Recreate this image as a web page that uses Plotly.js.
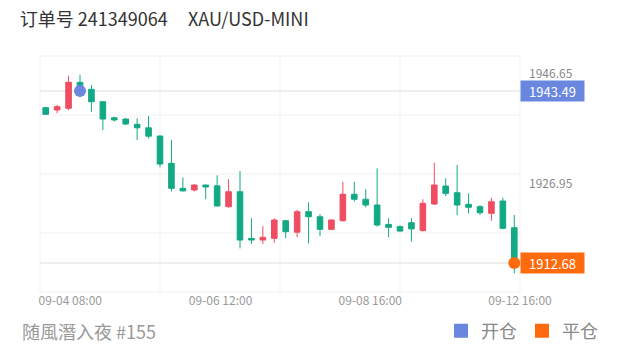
<!DOCTYPE html>
<html>
<head>
<meta charset="utf-8">
<script src="https://cdn.plot.ly/plotly-3.0.1.min.js"></script>
<style>html,body{margin:0;padding:0;background:#fff;}#chart{width:620px;height:352px;}</style>
</head>
<body>
<div id="chart"></div>
<script>
// ---- data ----
const candleIndex = [0,1,2,3,4,5,6,7,8,9,10,11,12,13,14,15,16,17,18,19,20,21,22,23,24,25,26,27,28,29,30,31,32,33,34,35,36,37,38,39,40,41];
const openVals  = [1940.50,1940.09,1940.39,1945.05,1943.79,1941.57,1938.70,1938.47,1937.52,1936.90,1935.43,1930.54,1926.06,1925.76,1926.65,1926.50,1922.77,1925.45,1917.10,1916.80,1917.10,1920.26,1918.20,1921.87,1920.97,1918.72,1920.26,1924.99,1924.10,1923.07,1919.60,1919.20,1919.90,1918.50,1923.25,1926.47,1925.27,1923.19,1922.77,1921.58,1923.79,1919.00];
const highVals  = [1940.60,1940.98,1946.23,1946.40,1944.57,1941.60,1938.90,1938.65,1938.60,1939.00,1935.50,1934.70,1928.00,1926.80,1926.70,1928.40,1927.70,1929.16,1920.70,1919.30,1920.70,1920.40,1922.20,1923.55,1921.45,1920.50,1927.24,1927.24,1925.90,1929.64,1920.70,1919.40,1920.70,1924.10,1930.65,1927.85,1930.23,1925.16,1923.07,1924.38,1924.38,1921.28];
const lowVals   = [1939.20,1939.50,1940.09,1942.40,1939.78,1936.50,1938.00,1937.40,1934.70,1935.00,1929.80,1925.50,1925.50,1925.50,1924.10,1922.80,1922.60,1915.30,1916.10,1916.10,1916.30,1917.10,1917.30,1916.20,1917.50,1918.60,1920.10,1923.70,1922.66,1919.20,1917.30,1918.30,1916.50,1918.30,1923.07,1924.68,1921.28,1921.60,1921.28,1920.26,1918.80,1910.83];
const closeVals = [1939.32,1940.68,1945.05,1943.10,1941.57,1938.47,1938.30,1937.57,1936.90,1935.40,1930.40,1926.06,1925.60,1926.65,1926.30,1922.90,1925.45,1916.80,1916.80,1917.28,1920.38,1918.29,1921.87,1920.97,1918.72,1920.38,1924.99,1924.10,1923.07,1919.49,1919.07,1918.40,1918.80,1923.37,1926.65,1925.16,1923.07,1922.66,1921.69,1923.66,1918.90,1912.90];

const timeTickLabels = ['09-04 08:00','09-06 12:00','09-08 16:00','09-12 16:00'];
const timeTickPos    = [2.15, 15.3, 28.4, 41.5];

const priceTickVals = [1946.65, 1926.95];
const openPrice = 1943.49, openIdx = 3;
const closePrice = 1912.68, closeIdx = 41;

const titleText = '订单号 241349064\u00a0\u00a0\u00a0\u00a0\u00a0XAU/USD-MINI';
const authorText = '随風潛入夜 #155';
const legendNames = ['开仓','平仓'];

// ---- styles ----
const UP = '#ee4d62', DOWN = '#13a985';
const BLUE = '#6a87e0', ORANGE = '#ff6a0d';
const FONT = '"Noto Sans CJK SC", "Noto Sans", sans-serif';

const traces = [
  {
    type: 'candlestick', x: candleIndex,
    open: openVals, high: highVals, low: lowVals, close: closeVals,
    increasing: {line: {color: UP, width: 1}, fillcolor: UP},
    decreasing: {line: {color: DOWN, width: 1}, fillcolor: DOWN},
    showlegend: false, hoverinfo: 'skip'
  },
  {
    type: 'scatter', mode: 'markers', x: [openIdx], y: [openPrice],
    marker: {color: BLUE, size: 12}, showlegend: false, cliponaxis: false, hoverinfo: 'skip'
  },
  {
    type: 'scatter', mode: 'markers', x: [closeIdx], y: [closePrice],
    marker: {color: ORANGE, size: 12}, showlegend: false, cliponaxis: false, hoverinfo: 'skip'
  },
  {type: 'scatter', mode: 'markers', x: [null], y: [null], name: legendNames[0],
   marker: {color: BLUE, size: 14, symbol: 'square'}},
  {type: 'scatter', mode: 'markers', x: [null], y: [null], name: legendNames[1],
   marker: {color: ORANGE, size: 14, symbol: 'square'}}
];

const shapes = [];
for (let k = 0; k <= 4; k++) {
  shapes.push({type: 'line', xref: 'paper', yref: 'paper', x0: k/4, x1: k/4, y0: 0, y1: 1,
               line: {color: '#f1f1f1', width: 1}, layer: 'below'});
  shapes.push({type: 'line', xref: 'paper', yref: 'paper', x0: 0, x1: 1, y0: k/4, y1: k/4,
               line: {color: '#f1f1f1', width: 1}, layer: 'below'});
}
[openPrice, closePrice].forEach(p => shapes.push({
  type: 'line', xref: 'paper', yref: 'y', x0: 0, x1: 1, y0: p, y1: p,
  line: {color: '#dcdcdc', width: 1}, layer: 'below'
}));

const annotations = [
  {xref: 'paper', yref: 'y', x: 1, y: openPrice, xanchor: 'left', yanchor: 'middle',
   text: openPrice.toFixed(2), showarrow: false, bgcolor: BLUE, width: 61, height: 18,
   font: {color: '#fff', size: 13, family: FONT}},
  {xref: 'paper', yref: 'y', x: 1, y: closePrice, xanchor: 'left', yanchor: 'middle',
   text: closePrice.toFixed(2), showarrow: false, bgcolor: ORANGE, width: 61, height: 18,
   font: {color: '#fff', size: 13, family: FONT}},
  {xref: 'paper', yref: 'paper', x: -0.0417, y: -0.165, xanchor: 'left', yanchor: 'middle',
   text: authorText, showarrow: false, font: {color: '#999', size: 18, family: FONT}}
];

const layout = {
  width: 620, height: 352,
  margin: {l: 40, r: 100, t: 56, b: 60, autoexpand: false},
  paper_bgcolor: '#fff', plot_bgcolor: '#fff',
  font: {family: FONT, color: '#999'},
  title: {text: titleText, xref: 'container', yref: 'container', x: 0.032, xanchor: 'left',
          y: 1 - 20/352, yanchor: 'middle', font: {size: 18, color: '#333', family: FONT}},
  xaxis: {range: [-0.5, 41.5], showgrid: false, zeroline: false, showline: false,
          tickvals: timeTickPos, ticktext: timeTickLabels, ticks: '', automargin: false,
          tickfont: {size: 12, color: '#999', family: FONT},
          rangeslider: {visible: false}, fixedrange: true},
  yaxis: {range: [1907.49, 1949.76], side: 'right', showgrid: false, zeroline: false,
          tickvals: priceTickVals, ticktext: priceTickVals.map(v => v.toFixed(2)), ticks: '',
          ticklabelstandoff: 8, automargin: false,
          tickfont: {size: 12, color: '#888', family: FONT}, fixedrange: true},
  showlegend: true,
  legend: {orientation: 'h', xref: 'container', yref: 'container', x: 603/620, xanchor: 'right',
           y: 21/352, yanchor: 'middle',
           font: {size: 18, color: '#888', family: FONT}, bgcolor: 'rgba(0,0,0,0)',
           itemwidth: 30, traceorder: 'normal'},
  shapes: shapes,
  annotations: annotations
};

Plotly.newPlot('chart', traces, layout, {staticPlot: true, displayModeBar: false});
</script>
</body>
</html>
